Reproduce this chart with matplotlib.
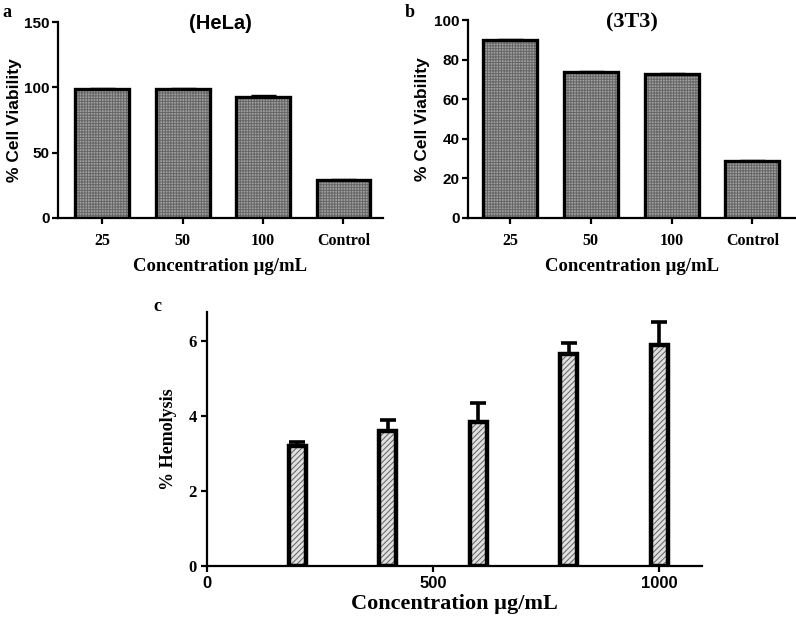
import matplotlib
matplotlib.use("Agg")
import matplotlib.pyplot as plt
import numpy as np

# panel a / b data
conc_labels = ["25", "50", "100", "Control"]
hela_viability = [99, 99, 93, 29]
hela_err = [0.8, 0.8, 0.8, 0.8]
t3_viability = [90, 74, 73, 29]
t3_err = [0.5, 0.5, 0.5, 0.5]

# panel c data
hemo_conc = [200, 400, 600, 800, 1000]
hemolysis = [3.2, 3.6, 3.85, 5.65, 5.9]
hemo_err = [0.12, 0.3, 0.5, 0.3, 0.6]

SANS = "Liberation Sans"
SERIF = "Liberation Serif"

plt.rcParams["hatch.linewidth"] = 0.7

fig = plt.figure(figsize=(7.96, 6.2), dpi=100)


def style_axes(ax):
    for s in ["top", "right"]:
        ax.spines[s].set_visible(False)
    for s in ["left", "bottom"]:
        ax.spines[s].set_linewidth(1.6)
    ax.tick_params(direction="out", width=1.6, length=4)


def viability_panel(rect, vals, errs, ymax, yticks, xlim, title, title_font, title_size,
                    ylab_x):
    ax = fig.add_axes(rect)
    x = np.arange(len(vals))
    # textured fill then thick outline
    ax.bar(x, vals, width=0.67, color="#a0a0a0", edgecolor="#666666",
           hatch="++++++", linewidth=0, zorder=2)
    ax.bar(x, vals, width=0.67, fill=False, edgecolor="black",
           linewidth=2.4, zorder=3)
    ax.errorbar(x, vals, yerr=errs, fmt="none", ecolor="black",
                elinewidth=1, capsize=9, capthick=1, zorder=1)
    ax.set_ylim(0, ymax)
    ax.set_yticks(yticks)
    ax.set_xlim(*xlim)
    ax.set_xticks(x)
    ax.set_xticklabels(conc_labels, fontfamily=SERIF, fontweight="bold", fontsize=11.5)
    for lab in ax.get_yticklabels():
        lab.set_fontfamily(SANS)
        lab.set_fontweight("bold")
        lab.set_fontsize(11)
    style_axes(ax)
    ax.tick_params(axis="x", pad=7)
    ax.tick_params(axis="y", pad=2)
    ax.set_ylabel("% Cell Viability", fontfamily=SANS, fontweight="bold", fontsize=12.5)
    ax.yaxis.set_label_coords(ylab_x, 0.5)
    ax.set_xlabel("Concentration µg/mL", fontfamily=SERIF, fontweight="bold",
                  fontsize=13.5, labelpad=6)
    ax.set_title(title, fontfamily=title_font, fontweight="bold", fontsize=title_size,
                 y=0.92)
    return ax


ax_a = viability_panel([0.073, 0.6484, 0.408, 0.316], hela_viability, hela_err, 150,
                       [0, 50, 100, 150], (-0.55, 3.49), "(HeLa)", SANS, 14.5, -0.112)
ax_b = viability_panel([0.588, 0.6484, 0.412, 0.319], t3_viability, t3_err, 100,
                       [0, 20, 40, 60, 80, 100], (-0.52, 3.54), "(3T3)", SERIF, 16, -0.115)

# panel c
ax_c = fig.add_axes([0.26, 0.0871, 0.622, 0.41])
ax_c.bar(hemo_conc, hemolysis, width=38, color="#e0e0e0", edgecolor="#606060",
         hatch="//////", linewidth=0, zorder=2)
ax_c.bar(hemo_conc, hemolysis, width=38, fill=False, edgecolor="black",
         linewidth=3.2, zorder=3)
ax_c.errorbar(hemo_conc, hemolysis, yerr=[np.zeros(len(hemo_err)), hemo_err],
              fmt="none", ecolor="black", elinewidth=2.6, capsize=5.5, capthick=2.6,
              zorder=4)
ax_c.set_xlim(0, 1095)
ax_c.set_ylim(0, 6.78)
ax_c.set_xticks([0, 500, 1000])
ax_c.set_yticks([0, 2, 4, 6])
for lab in ax_c.get_xticklabels():
    lab.set_fontfamily(SANS)
    lab.set_fontweight("bold")
    lab.set_fontsize(12)
for lab in ax_c.get_yticklabels():
    lab.set_fontfamily(SERIF)
    lab.set_fontweight("bold")
    lab.set_fontsize(12)
style_axes(ax_c)
ax_c.set_ylabel("% Hemolysis", fontfamily=SERIF, fontweight="bold", fontsize=13,
                labelpad=8)
ax_c.set_xlabel("Concentration µg/mL", fontfamily=SERIF, fontweight="bold",
                fontsize=16, labelpad=2)

# panel letters
fig.text(0.003, 0.98, "a", fontfamily=SERIF, fontweight="bold", fontsize=13, va="center")
fig.text(0.508, 0.98, "b", fontfamily=SERIF, fontweight="bold", fontsize=13, va="center")
fig.text(0.193, 0.505, "c", fontfamily=SERIF, fontweight="bold", fontsize=13, va="center")

fig.savefig("out.png", dpi=100)
